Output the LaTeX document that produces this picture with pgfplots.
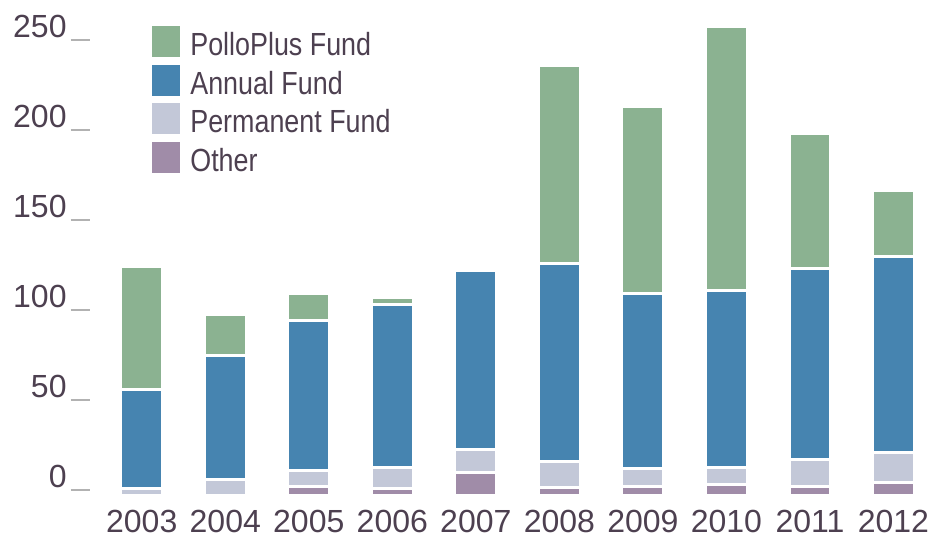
\documentclass[border=0pt]{standalone}
\usepackage{pgfplots}
\pgfplotsset{compat=1.18}
\usepackage{fontspec}
\setmainfont{Liberation Sans}
\newfontfamily\legfont{Liberation Sans}[FakeStretch=0.84]
\definecolor{cPollo}{HTML}{8BB291}
\definecolor{cAnnual}{HTML}{4684B0}
\definecolor{cPerm}{HTML}{C3C8D8}
\definecolor{cOther}{HTML}{A08CA8}
\definecolor{txt}{HTML}{4D4050}
\newcommand{\dash}{\hspace{2pt}\textcolor{gray!60}{\rule[-1.5pt]{9.5pt}{1pt}}}
\begin{document}
\begin{tikzpicture}
\path (-50pt,-20.3pt) rectangle (414.5pt,248pt);
\begin{axis}[
  at={(0,0)}, anchor=south west,
  scale only axis, width=413.5pt, height=238.5pt,
  xmin=-0.5, xmax=9.4, ymin=0, ymax=265,
  ybar stacked, bar width=0.5,
  axis line style={draw=none}, major tick length=0pt,
  xtick={0,...,9},
  xticklabels={2003,2004,2005,2006,2007,2008,2009,2010,2011,2012},
  ytick={0,50,100,150,200,250},
  yticklabels={0\dash,50\dash,100\dash,150\dash,200\dash,250\dash},
  xticklabel style={anchor=base, inner sep=0pt, yshift=-18.3pt, font=\fontsize{16}{19}\selectfont, text=txt},
  yticklabel style={anchor=base east, inner sep=0pt, xshift=-5pt, yshift=4pt, font=\fontsize{16}{19}\selectfont, text=txt},
  legend image code/.code={\fill[#1] (0pt,-1.5pt) rectangle (15.5pt,15.5pt);},
  legend style={at={(axis description cs:0,1)}, anchor=north west, xshift=24.5pt, yshift=-2pt,
    draw=none, fill=none, inner sep=0pt, row sep=0.75pt, column sep=3.5pt,
    font=\legfont\fontsize{16}{19}\selectfont, text=txt,
    nodes={inner sep=0pt, anchor=base west}},
  legend cell align=left,
  reverse legend,
]
\addplot[fill=cOther, draw=white, line width=1.5pt] coordinates {
(0,0) (1,0) (2,5.0) (3,3.9) (4,12.8) (5,4.7) (6,5.0) (7,6.1) (8,5.3) (9,7.2)};
\addplot[fill=cPerm, draw=white, line width=1.5pt] coordinates {
(0,3.9) (1,9.4) (2,8.9) (3,11.9) (4,12.8) (5,14.2) (6,10.0) (7,9.7) (8,14.7) (9,17.2)};
\addplot[fill=cAnnual, draw=white, line width=1.5pt] coordinates {
(0,55.4) (1,68.4) (2,83.3) (3,90.8) (4,99.7) (5,110.5) (6,97.2) (7,98.1) (8,106.1) (9,108.4)};
\addplot[fill=cPollo, draw=white, line width=1.5pt] coordinates {
(0,68.2) (1,22.8) (2,15.3) (3,3.7) (4,0) (5,109.8) (6,104.2) (7,146.9) (8,75.3) (9,36.9)};
\legend{Other, Permanent Fund, Annual Fund, PolloPlus Fund}
\end{axis}
\end{tikzpicture}
\end{document}
